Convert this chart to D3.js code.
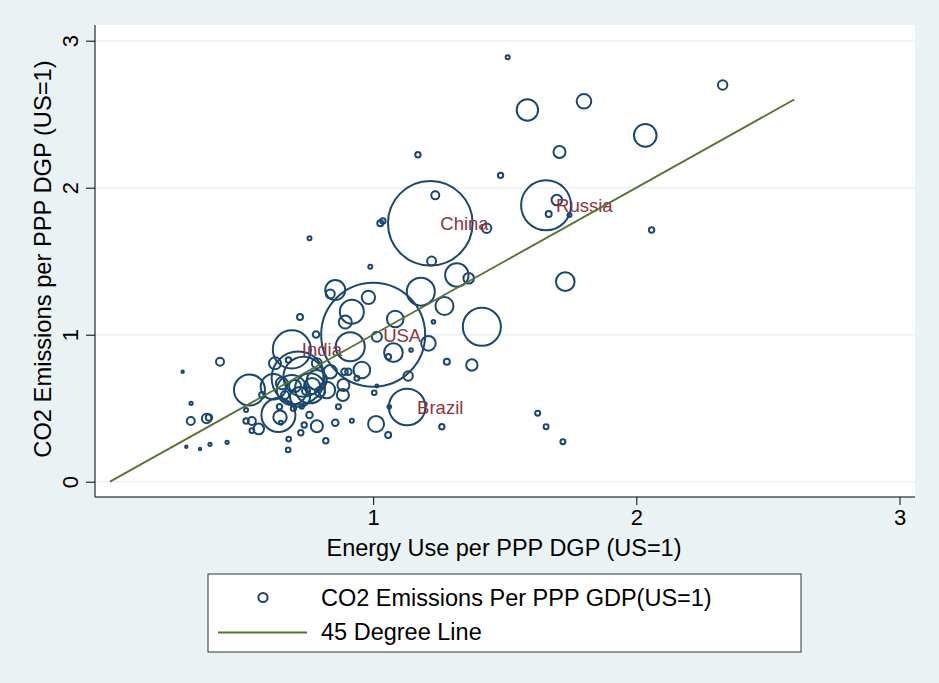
<!DOCTYPE html>
<html>
<head>
<meta charset="utf-8">
<script src="https://cdn.jsdelivr.net/npm/d3@7"></script>
<style>
html, body { margin: 0; padding: 0; background: #eaf2f3; }
svg { display: block; font-family: "Liberation Sans", Arial, sans-serif; }
</style>
</head>
<body>
<svg id="chart" width="939" height="683"></svg>
<script>
// Energy use per PPP GDP (US=1)
const energyUse = [
  1.511, 2.328, 1.586, 1.801, 2.034, 1.708, 1.170, 1.484, 1.657, 1.698,
  1.667, 1.746, 2.058, 1.217, 1.236, 1.431, 1.222, 1.027, 1.037, 0.758,
  0.989, 1.318, 1.363, 1.730, 1.181, 1.271, 1.229, 1.413, 0.856, 0.837,
  0.982, 0.919, 0.894, 1.084, 0.722, 1.000, 1.014, 0.913, 1.210, 1.077,
  1.144, 1.058, 0.783, 1.280, 1.375, 0.891, 0.906, 0.957, 1.133, 0.938,
  1.014, 1.004, 0.887, 0.885, 0.868, 0.919, 1.061, 1.129, 1.011, 1.057,
  1.261, 0.856, 0.786, 0.820, 0.758, 0.738, 0.725, 0.679, 0.677, 0.640,
  0.646, 0.649, 0.644, 0.697, 0.729, 0.530, 0.517, 0.517, 0.539, 0.565,
  0.539, 0.418, 0.276, 0.308, 0.307, 0.367, 0.376, 0.290, 0.342, 0.380,
  0.445, 1.625, 1.657, 1.721, 0.691, 0.678, 0.627, 0.621, 0.653, 0.735,
  0.760, 0.691, 0.786, 0.824, 0.837, 0.786, 0.715, 0.768, 0.745, 0.703,
  0.798, 0.722, 0.665, 0.578
];
// CO2 emissions per PPP GDP (US=1)
const co2Emissions = [
  2.887, 2.699, 2.529, 2.588, 2.356, 2.243, 2.224, 2.084, 1.880, 1.916,
  1.821, 1.814, 1.712, 1.758, 1.948, 1.724, 1.501, 1.758, 1.773, 1.656,
  1.463, 1.406, 1.384, 1.361, 1.293, 1.195, 1.088, 1.054, 1.304, 1.277,
  1.254, 1.156, 1.086, 1.107, 1.120, 1.000, 0.986, 0.918, 0.941, 0.878,
  0.896, 0.850, 1.001, 0.816, 0.794, 0.748, 0.748, 0.760, 0.719, 0.703,
  0.651, 0.605, 0.658, 0.590, 0.510, 0.415, 0.510, 0.508, 0.393, 0.318,
  0.374, 0.401, 0.377, 0.279, 0.454, 0.386, 0.333, 0.290, 0.216, 0.454,
  0.438, 0.401, 0.510, 0.499, 0.510, 0.624, 0.488, 0.413, 0.413, 0.359,
  0.347, 0.816, 0.748, 0.533, 0.413, 0.430, 0.437, 0.238, 0.222, 0.254,
  0.268, 0.465, 0.374, 0.272, 0.900, 0.828, 0.805, 0.646, 0.669, 0.714,
  0.635, 0.624, 0.692, 0.624, 0.748, 0.805, 0.705, 0.651, 0.617, 0.651,
  0.610, 0.576, 0.590, 0.590
];
// Marker weight (US=100)
const markerWeight = [
  0.15, 0.82, 4.24, 1.97, 4.72, 1.33, 0.27, 0.27, 23.1, 1.04,
  0.33, 0.15, 0.27, 66.2, 0.59, 0.82, 0.75, 0.33, 0.27, 0.15,
  0.15, 5.07, 1.04, 3.2, 7.25, 3.0, 0.12, 13.4, 3.7, 0.75,
  1.66, 5.33, 1.56, 2.55, 0.33, 100, 0.93, 7.78, 1.97, 3.2,
  0.12, 0.27, 0.4, 0.33, 1.2, 0.4, 0.4, 2.55, 0.82, 0.23,
  0.08, 0.2, 1.33, 1.33, 0.23, 0.15, 0.12, 12.4, 2.37, 0.33,
  0.27, 0.4, 1.33, 0.27, 0.4, 0.27, 0.27, 0.2, 0.2, 10.7,
  1.66, 0.15, 0.27, 0.27, 0.15, 8.9, 0.15, 0.27, 0.59, 1.04,
  0.2, 0.59, 0.05, 0.1, 0.59, 0.82, 0.4, 0.05, 0.05, 0.1,
  0.1, 0.23, 0.23, 0.23, 13.4, 0.27, 1.33, 6.0, 1.33, 14.8,
  8.3, 8.3, 3.7, 2.55, 1.66, 0.93, 26, 2.37, 0.59, 1.33,
  0.93, 3.7, 0.59, 0.33
];
// Labelled countries and their index in the arrays above
const labelNames = ["China", "Russia", "USA", "India", "Brazil"];
const labelIndex = [13, 8, 35, 94, 57];

const xTicks = [1, 2, 3];
const yTicks = [0, 1, 2, 3];
const lineX = [0, 2.6];
const lineY = [0, 2.6];

const xTitle = "Energy Use per PPP DGP (US=1)";
const yTitle = "CO2 Emissions per PPP DGP (US=1)";
const legendLabels = ["CO2 Emissions Per PPP GDP(US=1)", "45 Degree Line"];

const navy = "#1a476f", green = "#55752f", maroon = "#90353b", bg = "#eaf2f3";

const svg = d3.select("#chart");
const plot = {left: 95, right: 915, top: 25, bottom: 497};

const x = d3.scaleLinear().domain([0, 3]).range([110, 899.5]);
const y = d3.scaleLinear().domain([0, 3]).range([481.7, 40.7]);
const r = d3.scaleSqrt().domain([0, 100]).range([0, 52]);

svg.append("rect").attr("width", 939).attr("height", 683).attr("fill", bg);
svg.append("rect")
  .attr("x", plot.left).attr("y", plot.top)
  .attr("width", plot.right - plot.left).attr("height", plot.bottom - plot.top)
  .attr("fill", "#fff");

// gridlines
svg.append("g").selectAll("line").data(yTicks).join("line")
  .attr("x1", plot.left).attr("x2", plot.right)
  .attr("y1", d => y(d)).attr("y2", d => y(d))
  .attr("stroke", bg).attr("stroke-width", 1.6);

// axes
const yAxis = svg.append("g").attr("transform", `translate(${plot.left},0)`)
  .call(d3.axisLeft(y).tickValues(yTicks).tickSize(9).tickPadding(6).tickFormat(d3.format("d")));
yAxis.select(".domain").attr("d", `M0,${plot.top}V${plot.bottom}`).attr("stroke", "#000");
yAxis.selectAll(".tick line").attr("stroke", "#000");
yAxis.selectAll(".tick text")
  .attr("font-size", 22).attr("fill", "#000")
  .attr("text-anchor", "middle")
  .attr("x", null).attr("dy", null)
  .attr("transform", "translate(-17,0) rotate(-90)");

const xAxis = svg.append("g").attr("transform", `translate(0,${plot.bottom})`)
  .call(d3.axisBottom(x).tickValues(xTicks).tickSize(8).tickPadding(4).tickFormat(d3.format("d")));
xAxis.select(".domain").attr("d", `M${plot.left},0H${plot.right}`).attr("stroke", "#000");
xAxis.selectAll(".tick line").attr("stroke", "#000");
xAxis.selectAll(".tick text").attr("font-size", 22).attr("fill", "#000");

// titles
svg.append("text").attr("x", (plot.left + plot.right) / 2 - 1).attr("y", 556)
  .attr("text-anchor", "middle").attr("font-size", 23.5).text(xTitle);
svg.append("text").attr("transform", `translate(51,${(plot.top + plot.bottom) / 2 - 2}) rotate(-90)`)
  .attr("text-anchor", "middle").attr("font-size", 23.7).text(yTitle);

// bubbles
const idx = d3.range(energyUse.length);
svg.append("g").selectAll("circle").data(idx).join("circle")
  .attr("cx", i => x(energyUse[i]))
  .attr("cy", i => y(co2Emissions[i]))
  .attr("r", i => Math.max(1.2, r(markerWeight[i])))
  .attr("fill", "none").attr("stroke", navy).attr("stroke-width", 2);

// labels
svg.append("g").selectAll("text").data(labelIndex).join("text")
  .attr("x", i => x(energyUse[i]) + 10)
  .attr("y", i => y(co2Emissions[i]) + 7)
  .attr("font-size", 18.5).attr("fill", maroon)
  .text((i, k) => labelNames[k]);

// 45 degree line
svg.append("path")
  .datum(d3.range(lineX.length))
  .attr("d", d3.line().x(i => x(lineX[i])).y(i => y(lineY[i])))
  .attr("stroke", green).attr("stroke-width", 1.9).attr("fill", "none");

// legend
const lg = svg.append("g");
lg.append("rect").attr("x", 208).attr("y", 574).attr("width", 593).attr("height", 78)
  .attr("fill", "#fff").attr("stroke", "#333").attr("stroke-width", 1);
lg.append("circle").attr("cx", 263).attr("cy", 597.5).attr("r", 4.6)
  .attr("fill", "none").attr("stroke", navy).attr("stroke-width", 2);
lg.append("line").attr("x1", 218).attr("x2", 307).attr("y1", 632.5).attr("y2", 632.5)
  .attr("stroke", green).attr("stroke-width", 1.9);
lg.selectAll("text.lt").data(legendLabels).join("text").attr("class", "lt")
  .attr("x", 321).attr("y", (d, i) => 606 + i * 34)
  .attr("font-size", 23.5).attr("fill", "#000").text(d => d);
</script>
</body>
</html>
